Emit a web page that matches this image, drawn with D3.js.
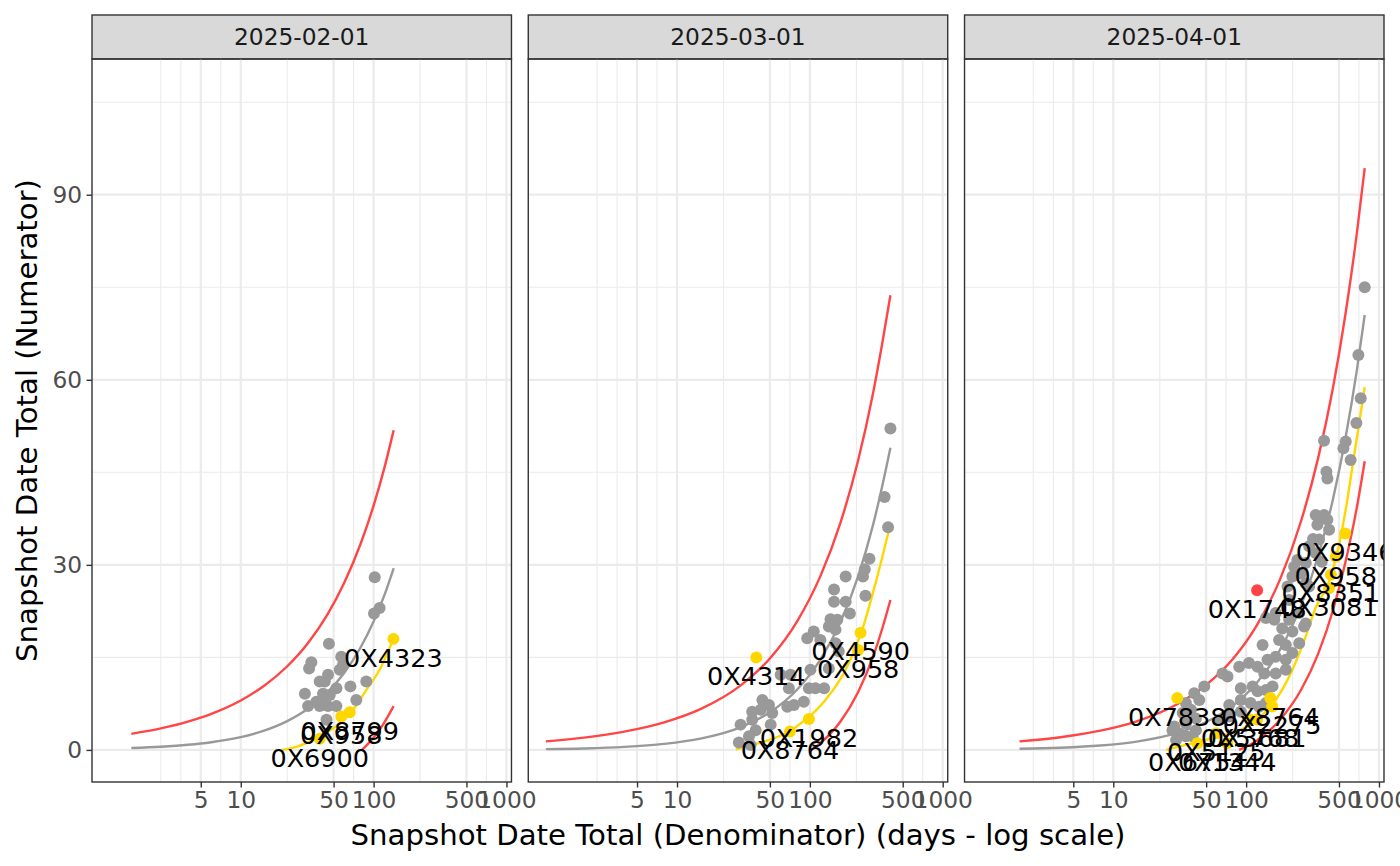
<!DOCTYPE html>
<html>
<head>
<meta charset="utf-8">
<script src="https://cdn.jsdelivr.net/npm/d3@7"></script>
<style>
  html, body { margin: 0; padding: 0; background: #fff; }
  svg { display: block; font-family: 'DejaVu Sans', sans-serif; }
</style>
</head>
<body>
<svg id="chart" width="1400" height="866"></svg>
<script>
const facets = ['2025-02-01', '2025-03-01', '2025-04-01']

const xTicks = [5, 10, 50, 100, 500, 1000]
const xMinorTicks = [2.5, 3.54, 7.07, 22.4, 70.7, 224, 707]
const yTicks = [0, 30, 60, 90]
const yMinorTicks = [15, 45, 75, 105]

// 2025-02-01
const febGrey = [
  [102, 28.0], [111, 23.0], [100.7, 22.1], [46.1, 17.2], [34, 14.2], [32.7, 13.2],
  [57.1, 15.1], [58.9, 13.8], [55.6, 13.0], [45.4, 12.2], [42.9, 11.1], [39.3, 11.1],
  [52.5, 10.0], [66.9, 10.3], [30.4, 9.1], [41.6, 9.1], [46.8, 8.9], [88.1, 11.1],
  [74.1, 8.1], [32.1, 7.1], [39.3, 7.1], [45.4, 7.1], [52.5, 7.1], [37.1, 7.8],
  [44.2, 4.9], [41.6, 8.1]
]
const febFlagged = [
  ['0X4323', 141, 18.0], ['0X8799', 66.1, 6.1], ['0X958', 57.1, 5.4], ['0X6900', 39.3, 1.8]
]
const febOutliers = []
const febCentreX = [1.5, 2.5, 4, 6, 10, 15, 22, 32, 45, 60, 80, 100, 120, 141.6]
const febCentreY = [0.31, 0.52, 0.83, 1.25, 2.08, 3.12, 4.58, 6.66, 9.36, 12.48, 16.64, 20.8, 24.96, 29.45]
const febUpperY = [2.61, 3.49, 4.59, 5.85, 8.02, 10.4, 13.4, 17.29, 21.97, 27.04, 33.46, 39.6, 45.55, 51.82]
const febLowerX = [81.7, 90, 100, 120, 141.6]
const febLowerY = [0, 0.9, 2.0, 4.4, 7.1]
const febTrendX = [20.5, 26.2, 39.3, 55.6, 70, 88, 111, 141.6]
const febTrendY = [0, 0.5, 2.2, 4.3, 6.5, 9.7, 13.0, 18.1]

// 2025-03-01
const marGrey = [
  [404, 52.1], [365, 41.0], [388, 36.1], [281, 31.0], [259, 29.3], [251, 28.1],
  [186, 28.1], [152, 26.0], [262, 25.0], [152, 24.0], [186, 24.0], [200, 22.1],
  [143, 21.2], [161, 21.1], [139, 20.0], [156, 19.5], [107, 19.2], [95.5, 18.1],
  [120, 17.8], [156, 17.3], [165, 16.0], [139, 13.2], [101, 13.0], [60.3, 12.2],
  [71.6, 12.2], [69.5, 10.0], [98.4, 10.0], [110, 10.0], [128, 10.0], [90, 7.8],
  [75.9, 7.3], [67.6, 7.0], [43.9, 8.1], [49.2, 7.3], [42.6, 6.5], [52.1, 6.0],
  [36.8, 6.2], [36.8, 4.9], [50.7, 4.1], [30.1, 4.1], [39.1, 3.2], [34.8, 2.2],
  [29.2, 1.2], [35.8, 0.8]
]
const marFlagged = [
  ['0X4314', 39.5, 15.0], ['0X4590', 241, 19.0], ['0X958', 231, 16.2],
  ['0X1982', 98.4, 5.0], ['0X8764', 70.8, 3.0]
]
const marOutliers = []
const marCentreX = [1.03, 2, 4, 8, 15, 30, 50, 80, 120, 170, 230, 300, 350, 404]
const marCentreY = [0.13, 0.24, 0.49, 0.98, 1.83, 3.66, 6.1, 9.76, 14.64, 20.74, 28.06, 36.6, 42.7, 49.0]
const marUpperY = [1.38, 1.99, 2.96, 4.47, 6.61, 10.42, 14.83, 20.81, 28.17, 36.84, 46.79, 57.99, 65.8, 73.7]
const marLowerX = [102.5, 120, 170, 230, 300, 350, 404]
const marLowerY = [0, 1.1, 4.6, 9.3, 15.2, 19.6, 24.3]
const marTrendX = [27.7, 41.4, 65.8, 93, 131, 186, 248, 312, 404]
const marTrendY = [0.1, 1.1, 2.7, 4.9, 8.1, 13.0, 19.5, 27.0, 36.6]

// 2025-04-01
const aprGrey = [
  [781, 75.0], [700, 64.0], [729, 57.0], [676, 53.0], [386, 50.1], [562, 50.0],
  [540, 48.9], [612, 47.0], [402, 45.1], [409, 44.0], [334, 38.1], [386, 38.1],
  [354, 37.3], [409, 37.3], [344, 36.5], [421, 35.7], [319, 34.2], [354, 34.1],
  [334, 31.9], [371, 30.5], [281, 30.3], [223, 28.1], [258, 28.6], [281, 27.0],
  [205, 26.5], [167, 22.2], [141, 21.4], [211, 21.1], [281, 20.5], [298, 33.0],
  [243, 30.8], [230, 29.7], [298, 26.5], [211, 24.3], [251, 22.2], [163, 21.1],
  [187, 19.7], [223, 19.2], [273, 20.0], [133, 17.0], [177, 17.8], [199, 17.0],
  [251, 17.3], [223, 15.7], [167, 15.1], [145, 14.6], [199, 14.6], [105, 14.1],
  [122, 13.5], [88.7, 13.5], [137, 12.4], [167, 12.4], [199, 13.0], [72.4, 11.9],
  [66.4, 12.4], [48.4, 10.3], [40.7, 9.2], [91.2, 10.0], [112, 10.3], [122, 9.5],
  [141, 9.7], [158, 10.3], [74.6, 7.3], [91.2, 8.1], [108, 7.6], [125, 7.0],
  [141, 7.6], [44.4, 8.1], [35.2, 7.6], [38.4, 6.5], [33.3, 6.0], [35.2, 4.3],
  [41.9, 5.1], [28.8, 3.8], [31.4, 2.7], [35.2, 2.2], [62.7, 4.9], [74.6, 5.4],
  [91.2, 6.2], [41.9, 3.2], [27.9, 3.2], [29.7, 1.6], [39.5, 2.2]
]
const aprFlagged = [
  ['0X9346', 556, 35.1], ['0X958', 473, 31.3], ['0X8351', 434, 28.4], ['0X3081', 421, 26.2],
  ['0X7838', 30.3, 8.4], ['0X8764', 152, 8.4], ['0X2275', 157, 7.05], ['0X5768', 107, 4.95],
  ['0X3681', 121, 4.95], ['0X5125', 59.6, 2.72], ['0X6754', 42.9, 1.1], ['0X1344', 72, 1.1]
]
const aprOutliers = [['0X1748', 121, 25.9]]
const aprCentreX = [1.97, 4, 8, 15, 30, 50, 80, 120, 180, 260, 350, 450, 560, 680, 781]
const aprCentreY = [0.18, 0.36, 0.72, 1.35, 2.71, 4.52, 7.22, 10.84, 16.25, 23.48, 31.6, 40.6, 50.6, 61.4, 70.5]
const aprUpperY = [1.38, 2.06, 3.12, 4.64, 7.37, 10.53, 14.82, 20.15, 27.65, 37.19, 47.5, 58.63, 70.71, 83.57, 94.3]
const aprLowerX = [88.6, 120, 180, 260, 350, 450, 560, 680, 781]
const aprLowerY = [0, 1.5, 4.9, 9.8, 15.7, 22.6, 30.5, 39.2, 46.8]
const aprTrendX = [25, 39.5, 62.7, 111, 167, 223, 281, 333, 420, 485, 561, 649, 781]
const aprTrendY = [0, 1.1, 2.2, 4.3, 8.1, 13.0, 18.4, 23.0, 27.2, 31.9, 38.9, 47.6, 58.8]

const zip = (xs, ys) => xs.map((v, i) => [v, ys[i]])

const panels = [
  { label: facets[0], grey: febGrey, flagged: febFlagged, outliers: febOutliers,
    centre: zip(febCentreX, febCentreY), upper: zip(febCentreX, febUpperY),
    lower: zip(febLowerX, febLowerY), trend: zip(febTrendX, febTrendY) },
  { label: facets[1], grey: marGrey, flagged: marFlagged, outliers: marOutliers,
    centre: zip(marCentreX, marCentreY), upper: zip(marCentreX, marUpperY),
    lower: zip(marLowerX, marLowerY), trend: zip(marTrendX, marTrendY) },
  { label: facets[2], grey: aprGrey, flagged: aprFlagged, outliers: aprOutliers,
    centre: zip(aprCentreX, aprCentreY), upper: zip(aprCentreX, aprUpperY),
    lower: zip(aprLowerX, aprLowerY), trend: zip(aprTrendX, aprTrendY) },
]

const colours = { grey: '#999999', red: '#FF4545', gold: '#FFD700', grid: '#EBEBEB', frame: '#333333' }

const left = 92
const right = 1384
const gap = 16.8
const stripTop = 15
const panelTop = 59
const panelBottom = 782
const panelW = (right - left - 2 * gap) / 3
const panelH = panelBottom - panelTop
const labelNudge = 3
const dotR = 6
const tickFont = 23.3
const titleFont = 29.2

const x = d3.scaleLog().domain([0.759, 1091]).range([0, panelW])
const y = d3.scaleLinear().domain([-5.2, 112]).range([panelH, 0])

const line = d3.line()
  .x((d) => x(d[0]))
  .y((d) => y(d[1]))
  .curve(d3.curveMonotoneX)

const svg = d3.select('#chart')

panels.forEach((p, i) => {
  const ox = left + i * (panelW + gap)

  // strip
  svg.append('rect')
    .attr('x', ox).attr('y', stripTop)
    .attr('width', panelW).attr('height', panelTop - stripTop)
    .attr('fill', '#D9D9D9').attr('stroke', colours.frame).attr('stroke-width', 1.4)
  svg.append('text')
    .attr('x', ox + panelW / 2).attr('y', (stripTop + panelTop) / 2)
    .attr('dy', '0.36em')
    .attr('text-anchor', 'middle')
    .attr('font-size', tickFont)
    .attr('fill', '#1A1A1A')
    .text(p.label)

  const g = svg.append('g').attr('transform', `translate(${ox},${panelTop})`)

  svg.append('clipPath').attr('id', `clip-${i}`)
    .append('rect').attr('width', panelW).attr('height', panelH)

  const grid = g.append('g')
  grid.selectAll('.xminor').data(xMinorTicks).join('line')
    .attr('x1', x).attr('x2', x).attr('y1', 0).attr('y2', panelH)
    .attr('stroke', colours.grid).attr('stroke-width', 1.1)
  grid.selectAll('.yminor').data(yMinorTicks).join('line')
    .attr('y1', y).attr('y2', y).attr('x1', 0).attr('x2', panelW)
    .attr('stroke', colours.grid).attr('stroke-width', 1.1)
  grid.selectAll('.xmajor').data(xTicks).join('line')
    .attr('x1', x).attr('x2', x).attr('y1', 0).attr('y2', panelH)
    .attr('stroke', colours.grid).attr('stroke-width', 2.2)
  grid.selectAll('.ymajor').data(yTicks).join('line')
    .attr('y1', y).attr('y2', y).attr('x1', 0).attr('x2', panelW)
    .attr('stroke', colours.grid).attr('stroke-width', 2.2)

  const plot = g.append('g').attr('clip-path', `url(#clip-${i})`)

  const curves = [
    [p.centre, colours.grey], [p.upper, colours.red], [p.lower, colours.red], [p.trend, colours.gold],
  ]
  plot.selectAll('path.curve').data(curves).join('path')
    .attr('class', 'curve')
    .attr('d', (d) => line(d[0]))
    .attr('fill', 'none')
    .attr('stroke', (d) => d[1])
    .attr('stroke-width', 2.4)

  plot.selectAll('circle.grey').data(p.grey).join('circle')
    .attr('class', 'grey')
    .attr('cx', (d) => x(d[0])).attr('cy', (d) => y(d[1])).attr('r', dotR)
    .attr('fill', colours.grey)

  plot.selectAll('circle.flag').data(p.flagged).join('circle')
    .attr('class', 'flag')
    .attr('cx', (d) => x(d[1])).attr('cy', (d) => y(d[2])).attr('r', dotR)
    .attr('fill', colours.gold)

  plot.selectAll('circle.out').data(p.outliers).join('circle')
    .attr('class', 'out')
    .attr('cx', (d) => x(d[1])).attr('cy', (d) => y(d[2])).attr('r', dotR)
    .attr('fill', colours.red)

  plot.selectAll('text.lab').data(p.flagged.concat(p.outliers)).join('text')
    .attr('class', 'lab')
    .attr('x', (d) => x(d[1]))
    .attr('y', (d) => y(d[2] - labelNudge))
    .attr('dy', '0.36em')
    .attr('text-anchor', 'middle')
    .attr('font-size', 25.5)
    .attr('fill', '#000')
    .text((d) => d[0])

  g.append('rect')
    .attr('width', panelW).attr('height', panelH)
    .attr('fill', 'none').attr('stroke', colours.frame).attr('stroke-width', 1.4)

  // x axis
  const xAxis = g.append('g')
    .attr('transform', `translate(0,${panelH})`)
    .call(d3.axisBottom(x).tickValues(xTicks).tickFormat(d3.format('d')).tickSize(5.5).tickPadding(4.4))
  xAxis.select('.domain').remove()
  xAxis.selectAll('line').attr('stroke', colours.frame).attr('stroke-width', 1.4)
  xAxis.selectAll('text')
    .attr('font-size', tickFont).attr('fill', '#4D4D4D')
    .attr('font-family', "'DejaVu Sans', sans-serif")

  if (i === 0) {
    const yAxis = g.append('g')
      .call(d3.axisLeft(y).tickValues(yTicks).tickSize(5.5).tickPadding(4.4))
    yAxis.select('.domain').remove()
    yAxis.selectAll('line').attr('stroke', colours.frame).attr('stroke-width', 1.4)
    yAxis.selectAll('text')
      .attr('font-size', tickFont).attr('fill', '#4D4D4D')
      .attr('font-family', "'DejaVu Sans', sans-serif")
  }
})

svg.append('text')
  .attr('x', (left + right) / 2).attr('y', 845)
  .attr('text-anchor', 'middle')
  .attr('font-size', titleFont)
  .attr('fill', '#000')
  .text('Snapshot Date Total (Denominator) (days - log scale)')

svg.append('text')
  .attr('transform', `translate(37,${(panelTop + panelBottom) / 2}) rotate(-90)`)
  .attr('text-anchor', 'middle')
  .attr('font-size', titleFont)
  .attr('fill', '#000')
  .text('Snapshot Date Total (Numerator)')
</script>
</body>
</html>
